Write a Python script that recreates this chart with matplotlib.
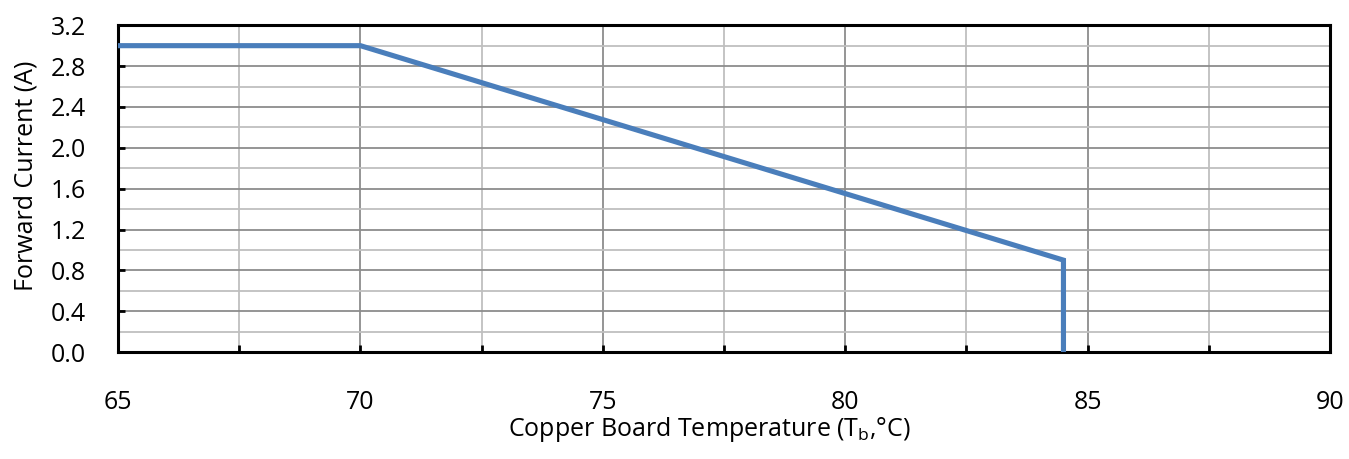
import numpy as np
import matplotlib
matplotlib.use("Agg")
import matplotlib.pyplot as plt
from matplotlib.ticker import MultipleLocator

# derating krivka: teplota desky vs. proud
temp_c = [65, 70, 84.5, 84.5]
current_a = [3.0, 3.0, 0.9, 0.0]

plt.rcParams["font.family"] = ["Open Sans", "DejaVu Sans"]

fig = plt.figure(figsize=(13.49, 4.59), dpi=100)
ax = fig.add_axes([0.0875, 0.233, 0.8985, 0.712])

ax.plot(temp_c, current_a, color="#4a7ebb", lw=3.7, solid_joinstyle="miter", zorder=3)

ax.set_xlim(65, 90)
ax.set_ylim(0, 3.2)
ax.xaxis.set_major_locator(MultipleLocator(5))
ax.xaxis.set_minor_locator(MultipleLocator(2.5))
ax.yaxis.set_major_locator(MultipleLocator(0.4))
ax.yaxis.set_minor_locator(MultipleLocator(0.2))
ax.yaxis.set_major_formatter(plt.FuncFormatter(lambda v, p: f"{v:.1f}"))

ax.grid(which="major", color="#8c8c8c", lw=1.3)
ax.grid(which="minor", color="#bfbfbf", lw=1.3)
ax.set_axisbelow(True)

for s in ax.spines.values():
    s.set_linewidth(2.2)
    s.set_color("black")

ax.tick_params(which="both", direction="in", width=2, length=5, labelsize=18)
ax.tick_params(axis="x", which="both", pad=27)
ax.tick_params(axis="y", which="both", pad=23)
ax.tick_params(axis="y", which="minor", length=0)

ax.set_xlabel("Copper Board Temperature (T$_\\mathregular{b}$,°C)", fontsize=18, labelpad=0)
ax.set_ylabel("Forward Current (A)", fontsize=18, labelpad=9)
# popisky os v Excelu nejsou presne na stredu
ax.xaxis.label.set_x(0.488)
ax.yaxis.label.set_y(0.54)

plt.savefig("out.png", dpi=100)
